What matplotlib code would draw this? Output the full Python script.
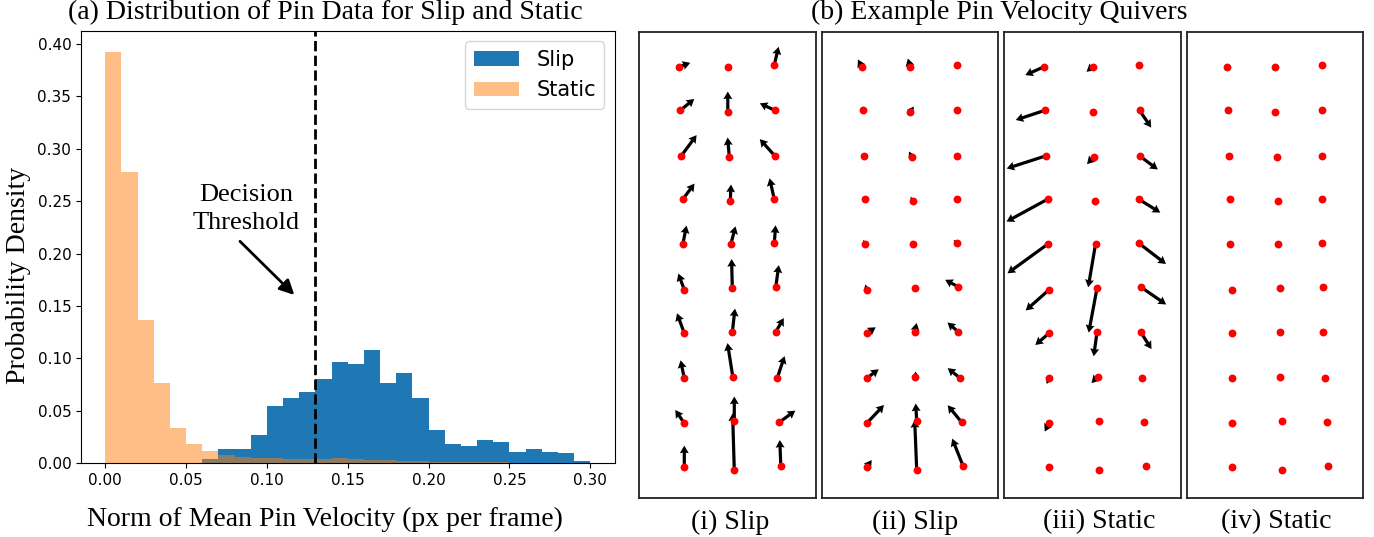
import numpy as np
import matplotlib
matplotlib.use('Agg')
import matplotlib.pyplot as plt

# ---- histogram data (fraction of pins per 0.01 px/frame bin) ----
bin_edges = np.linspace(0.0, 0.30, 31)
slip_prob = [0, 0, 0, 0, 0, 0, 0.0045, 0.0133, 0.0133, 0.027,
             0.0546, 0.062, 0.0676, 0.0806, 0.0968, 0.0949, 0.1076, 0.0765, 0.086, 0.0619,
             0.0317, 0.0184, 0.0162, 0.0219, 0.0206, 0.0108, 0.0133, 0.0108, 0.0095, 0.0022]
static_prob = [0.3927, 0.278, 0.1365, 0.0768, 0.034, 0.0184, 0.012, 0.0076, 0.0057, 0.005,
               0.005, 0.0044, 0.0044, 0.0044, 0.0054, 0.0044, 0.0035, 0.003, 0.0022, 0.002,
               0.001, 0.001, 0.001, 0.0008, 0.0008, 0.0005, 0.0005, 0.0005, 0.0003, 0.0]
threshold = 0.13

# ---- quiver data: pin positions (px inside panel), rows top->bottom, 3 columns ----
pin_x = [40, 88.5, 135, 41, 88.5, 135.5, 42, 90, 135.5, 43.5, 91, 135, 43.5, 91.5, 135,
         45, 93, 136.5, 45, 93, 136.5, 45, 93.5, 138, 45, 95, 140, 45, 95, 141.5]
pin_y = [34.5, 34.5, 32.5, 78, 79.5, 78, 123.5, 124.5, 123.5, 167, 168.5, 167, 212, 212, 211,
         257.5, 256, 254.5, 301, 300, 299.5, 346, 344.5, 345.5, 391, 388.5, 390, 435, 438, 434]

slip1_u = [11, 0, 4.3, 14, 0, -15, 15.3, -1.7, -15, 11.7, 0.7, -4.7, 3.7, 4.7, 1.3,
           -6, -0.7, 3, -7.3, 2.7, 8, -3.7, -5.3, 7.3, -9, 0, 16, 0, -1.7, -1]
slip1_v = [-4, 0, -18, -11.3, -20.3, -7, -20.7, -19.3, -16.7, -15.7, -16.3, -21, -18.7, -18, -18,
           -16.3, -29.3, -21.7, -20, -23.7, -13.7, -18, -33.7, -21.7, -13.3, -24.3, -11.7, -21.7, -57, -26.3]

slip2_u = [-3.7, -2.3, 0, 0.3, 3.7, 0, 0, -2.7, 0, 0, -2, 0, -2, -1.3, -3,
           -1.3, 0, -13, 9, 2, -10.7, 12, 0.7, -12, 17.3, -1, -14, 5, -2, -11]
slip2_v = [-7.3, -8.3, 0, -3.7, -5.3, 0, 0, -5.3, 0, 0, -4, 0, -4.3, -3.7, -3.3,
           -5.3, 0, -7, -6, -9.3, -9.3, -9, -5.3, -9.7, -18.3, -17.3, -17, -7.3, -50.3, -27.7]

static1_u = [-18.7, -6, 0, -29.3, -1.7, 11.7, -39.3, -7, 18.3, -41, -3.3, 21.3, -40, -7.3, 27,
             -23.3, -8.3, 25.7, -13.7, -3.3, 11, -2.3, -6, 4, -4.3, 0, 0, -2.7, 0, 0]
static1_v = [8.3, 5, 0, 9.7, 2, 17.3, 12.7, 7.3, 13.7, 22.3, 2, 13.3, 29, 43, 20.7,
             20.7, 44.3, 17.7, 11.7, 24, 17.3, 5.7, 6.3, 3, 8.3, 0, 0, -1.7, 0, 0]

static2_u = [0, 0, 0, 0, 0, 0, -3, 0, 1, 0, 0, 0, 0, 0, 0,
             0, 0, 0, -1.5, 0, -1, 0.5, 0, 0, 0, -1.5, -1, 0, 0.5, 0]
static2_v = [0, 0, 0, 0, 0, 0, -1.5, 0, -1.5, 0, 0, 0, 0, 0, 0,
             0, 0, 0, -2, -2.5, -2.5, 1.5, 0, 0, 0, -2, -2, 0, 1.5, 0]

panel_names = ['(i) Slip', '(ii) Slip', '(iii) Static', '(iv) Static']
panel_u = [slip1_u, slip2_u, static1_u, static2_u]
panel_v = [slip1_v, slip2_v, static1_v, static2_v]

W, H = 1374, 537
serif = ['Liberation Serif', 'DejaVu Serif']
fig = plt.figure(figsize=(W / 100, H / 100), dpi=100)

# ---- (a) histogram ----
ax = fig.add_axes([81 / W, 1 - 463.3 / H, 533.5 / W, 432.3 / H])
ax.bar(bin_edges[:-1], slip_prob, width=0.01, align='edge', color='#1f77b4', label='Slip')
ax.bar(bin_edges[:-1], static_prob, width=0.01, align='edge', color='#ff7f0e', alpha=0.5, label='Static')
ax.axvline(threshold, color='black', linestyle='--', linewidth=2)
ax.set_xticks(np.arange(0, 0.31, 0.05))
ax.set_yticks(np.arange(0, 0.41, 0.05))
ax.tick_params(labelsize=11)
ax.legend(loc='upper right', fontsize=15, handlelength=2.2)
ax.text(0.0871, 0.2422, 'Decision\nThreshold', ha='center', va='center',
        family=serif, fontsize=19, linespacing=1.35)
ax.annotate('', xy=(0.1182, 0.1587), xytext=(0.0821, 0.2136),
            arrowprops=dict(arrowstyle='-|>', color='black', lw=2, mutation_scale=22))

fig.text(325 / W, 1 - 12 / H, '(a) Distribution of Pin Data for Slip and Static',
         ha='center', va='center', family=serif, fontsize=20)
fig.text(325 / W, 1 - 519 / H, 'Norm of Mean Pin Velocity (px per frame)',
         ha='center', va='center', family=serif, fontsize=20)
fig.text(19 / W, 1 - 275 / H, 'Probability Density', rotation=90,
         ha='center', va='center', family=serif, fontsize=20)

# ---- (b) quiver panels ----
panel_left = [639.3, 821.7, 1004, 1186.7]
caption_x = [730, 915, 1099, 1276]
pw, ph = 176.5, 466
for i in range(4):
    qa = fig.add_axes([panel_left[i] / W, 1 - 498.3 / H, pw / W, ph / H])
    qa.quiver(pin_x, pin_y, panel_u[i], panel_v[i], angles='xy', scale_units='xy', scale=1,
              units='xy', width=3.2, headwidth=2.8, headlength=2.4, headaxislength=2.2,
              color='black', zorder=2)
    qa.scatter(pin_x, pin_y, s=32, color='red', linewidths=0, zorder=3)
    qa.set_xlim(0, pw)
    qa.set_ylim(ph, 0)
    qa.set_xticks([])
    qa.set_yticks([])
    for sp in qa.spines.values():
        sp.set_linewidth(1.3)
        sp.set_color('#222222')
    fig.text(caption_x[i] / W, 1 - 522 / H, panel_names[i], ha='center', va='center',
             family=serif, fontsize=20)

fig.text(999 / W, 1 - 12 / H, '(b) Example Pin Velocity Quivers',
         ha='center', va='center', family=serif, fontsize=20)

fig.savefig('out.png', dpi=100)
